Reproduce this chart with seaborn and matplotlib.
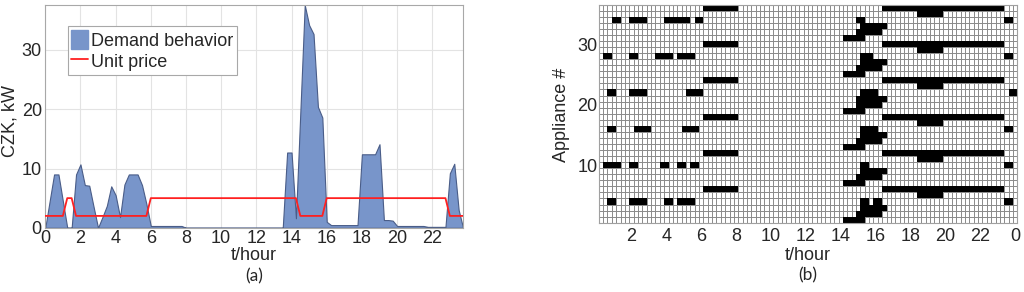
import numpy as np
import matplotlib
matplotlib.use("Agg")
import matplotlib.pyplot as plt
import seaborn as sns
from matplotlib.colors import ListedColormap
from matplotlib.patches import Patch
from matplotlib.lines import Line2D

# 15-minute slots over one day
n_slots = 96
slot_hours = np.arange(n_slots) / 4

# (a) aggregated demand, kW per slot
demand_kw = [
    0.0, 4.5, 9.0, 9.0, 4.5, 0.0, 0.0, 9.0, 10.7, 7.2, 7.1, 3.5,
    0.0, 1.8, 3.7, 7.0, 5.5, 1.8, 7.3, 9.0, 9.0, 9.0, 7.2, 4.0,
    0.3, 0.3, 0.3, 0.3, 0.3, 0.3, 0.3, 0.3, 0.0, 0.0, 0.0, 0.0,
    0.0, 0.0, 0.0, 0.0, 0.0, 0.0, 0.0, 0.0, 0.0, 0.0, 0.0, 0.0,
    0.0, 0.0, 0.0, 0.0, 0.0, 0.0, 0.0, 12.7, 12.7, 1.6, 19.5, 37.6,
    34.2, 32.7, 20.4, 18.6, 1.0, 0.45, 0.45, 0.45, 0.45, 0.45, 0.45, 0.45,
    12.4, 12.4, 12.4, 12.4, 14.1, 1.3, 1.3, 1.2, 0.3, 0.3, 0.3, 0.3,
    0.3, 0.3, 0.3, 0.15, 0.15, 0.15, 0.15, 0.15, 9.2, 10.8, 3.0, 0.0,
]

# (a) unit price, CZK per slot
unit_price = [
    2, 2, 2, 2, 2, 5, 5, 2, 2, 2, 2, 2,
    2, 2, 2, 2, 2, 2, 2, 2, 2, 2, 2, 2,
    5, 5, 5, 5, 5, 5, 5, 5, 5, 5, 5, 5,
    5, 5, 5, 5, 5, 5, 5, 5, 5, 5, 5, 5,
    5, 5, 5, 5, 5, 5, 5, 5, 5, 5, 2, 2,
    2, 2, 2, 2, 5, 5, 5, 5, 5, 5, 5, 5,
    5, 5, 5, 5, 5, 5, 5, 5, 5, 5, 5, 5,
    5, 5, 5, 5, 5, 5, 5, 5, 2, 2, 2, 2,
]

# (b) on-periods per appliance: (first slot, last slot), slots 0..95
appliance_runs = {
    36: [(24, 31), (65, 92)],
    35: [(73, 78)],
    34: [(3, 4), (7, 10), (15, 20), (22, 23), (59, 60), (93, 94)],
    33: [(60, 65)],
    32: [(59, 64)],
    31: [(56, 60)],
    30: [(24, 31), (65, 92)],
    29: [(73, 78)],
    28: [(1, 2), (7, 8), (13, 16), (18, 21), (60, 62), (93, 94)],
    27: [(60, 65)],
    26: [(59, 64)],
    25: [(56, 60)],
    24: [(24, 31), (65, 92)],
    23: [(73, 78)],
    22: [(2, 3), (7, 10), (20, 23), (60, 63), (94, 95)],
    21: [(59, 65)],
    20: [(59, 64)],
    19: [(56, 60)],
    18: [(24, 31), (65, 92)],
    17: [(73, 78)],
    16: [(2, 3), (8, 11), (19, 22), (60, 63), (93, 94)],
    15: [(60, 65)],
    14: [(59, 64)],
    13: [(56, 60)],
    12: [(24, 31), (65, 92)],
    11: [(73, 78)],
    10: [(1, 4), (7, 8), (14, 15), (18, 19), (21, 22), (60, 61), (93, 94)],
    9: [(60, 65)],
    8: [(59, 64)],
    7: [(56, 60)],
    6: [(24, 31), (65, 92)],
    5: [(73, 78)],
    4: [(2, 3), (7, 10), (15, 16), (18, 21), (60, 61), (63, 64), (93, 94)],
    3: [(60, 65)],
    2: [(59, 64)],
    1: [(56, 60)],
}
n_appliances = 36

hour_ticks = [0, 2, 4, 6, 8, 10, 12, 14, 16, 18, 20, 22]
hour_labels_b = ["2", "4", "6", "8", "10", "12", "14", "16", "18", "20", "22", "0"]
appliance_ticks = [10, 20, 30]

# build the on/off matrix, top row = appliance 36
schedule = np.zeros((n_appliances, n_slots))
for app, runs in appliance_runs.items():
    for a, b in runs:
        schedule[n_appliances - app, a:b + 1] = 1

sns.set_style("white")
plt.rcParams["font.family"] = ["Liberation Sans", "DejaVu Sans"]

fig = plt.figure(figsize=(10.24, 2.92), dpi=100)

# ---- (a) demand and price
ax1 = fig.add_axes([0.0442, 0.220, 0.408, 0.763])
ax1.fill_between(slot_hours, demand_kw, color="#7895ca", edgecolor="#4a5d88",
                 linewidth=0.8, zorder=2)
sns.lineplot(x=slot_hours, y=unit_price, ax=ax1, color="#ff2020",
             linewidth=1.3, zorder=3)
ax1.set_xlim(0, 23.75)
ax1.set_ylim(0, 37.6)
ax1.set_xticks(hour_ticks)
ax1.set_yticks([0, 10, 20, 30])
ax1.grid(True, color="#e3e3e3", linewidth=0.8)
ax1.set_axisbelow(True)
for s in ax1.spines.values():
    s.set_visible(True)
    s.set_color("#a8a8a8")
    s.set_linewidth(0.8)
ax1.tick_params(labelsize=13, length=0)
ax1.tick_params(axis="x", pad=1.5)
ax1.tick_params(axis="y", pad=2.5)
ax1.set_xlabel("t/hour", fontsize=13)
ax1.set_ylabel("CZK, kW", fontsize=13)
ax1.xaxis.set_label_coords(0.5, -0.085)
ax1.yaxis.set_label_coords(-0.064, 0.48)

handles = [Patch(facecolor="#7895ca", edgecolor="#7895ca"),
           Line2D([], [], color="#ff2020", linewidth=1.3)]
leg = ax1.legend(handles, ["Demand behavior", "Unit price"], loc="upper left",
                 bbox_to_anchor=(0.054, 0.905), borderaxespad=0, fontsize=13,
                 fancybox=False, framealpha=1, edgecolor="#a8a8a8",
                 handlelength=0.9, handleheight=1.3, handletextpad=0.2,
                 labelspacing=0.1, borderpad=0.2)
leg.get_frame().set_linewidth(0.8)

# ---- (b) appliance schedule
ax2 = fig.add_axes([0.5847, 0.2373, 0.4088, 0.7466])
sns.heatmap(schedule, mask=schedule == 0, cmap=ListedColormap(["black"]),
            cbar=False, ax=ax2, xticklabels=False, yticklabels=False,
            linewidths=0)
ax2.set_facecolor("white")
ax2.set_xticks(np.arange(0, n_slots + 1), minor=True)
ax2.set_yticks(np.arange(0, n_appliances + 1), minor=True)
ax2.grid(True, which="minor", color="#8a8a8a", linewidth=0.7)
ax2.set_axisbelow(True)
ax2.set_xticks([(h + 2) * 4 - 0.5 for h in hour_ticks])
ax2.set_xticklabels(hour_labels_b)
ax2.set_yticks([n_appliances - a + 0.5 for a in appliance_ticks])
ax2.set_yticklabels([str(a) for a in appliance_ticks], rotation=0)
ax2.tick_params(which="both", labelsize=13, length=0)
ax2.tick_params(axis="x", pad=4)
ax2.tick_params(axis="y", pad=1)
for s in ax2.spines.values():
    s.set_visible(True)
    s.set_color("#a0a0a0")
    s.set_linewidth(0.8)
ax2.set_xlabel("t/hour", fontsize=13)
ax2.set_ylabel("Appliance #", fontsize=13)
ax2.xaxis.set_label_coords(0.5, -0.11)
ax2.yaxis.set_label_coords(-0.068, 0.494)

fig.text(0.248, 0.055, "(a)", ha="center", va="center", fontsize=12.5,
         family=["Lato", "DejaVu Sans"])
fig.text(0.789, 0.058, "(b)", ha="center", va="center", fontsize=12.5,
         family=["Lato", "DejaVu Sans"])

fig.savefig("out.png", dpi=100)
